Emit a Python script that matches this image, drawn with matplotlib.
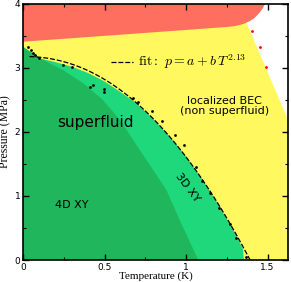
"""Phase diagram of solid 4He under pressure: superfluid, localized BEC and solid."""

import matplotlib

matplotlib.use("Agg")
import matplotlib.pyplot as plt
import numpy as np
from matplotlib.ticker import MultipleLocator

# --- region boundaries (temperature K, pressure MPa) ---
solid_edge_T = [0.0, 0.6, 1.25, 1.30, 1.35, 1.39, 1.42, 1.45, 1.47, 1.485]
solid_edge_P = [3.41, 3.52, 3.64, 3.655, 3.685, 3.73, 3.78, 3.86, 3.93, 4.0]

normal_edge_T = [1.372, 1.626]
normal_edge_P = [3.70, 2.19]

sf3d_edge_T = [0.0, 0.05, 0.1, 0.2, 0.3, 0.4, 0.5, 0.6, 0.7, 0.8, 0.9, 1.0, 1.1, 1.2, 1.3, 1.35, 1.355]
sf3d_edge_P = [3.33, 3.22, 3.15, 3.09, 3.02, 2.92, 2.79, 2.62, 2.44, 2.20, 1.93, 1.62, 1.26, 0.86, 0.42, 0.17, 0.0]

sf4d_edge_T = [0.0, 0.12, 0.25, 0.37, 0.49, 0.6, 0.7, 0.8, 0.88, 0.96, 1.02, 1.075]
sf4d_edge_P = [3.33, 3.13, 2.96, 2.76, 2.50, 2.17, 1.78, 1.40, 1.09, 0.63, 0.30, 0.0]

# --- measured transition points ---
data_T = [0.033, 0.047, 0.063, 0.074, 0.10, 0.247, 0.30, 0.41, 0.43, 0.497, 0.497,
          0.675, 0.705, 0.79, 0.85, 0.93, 0.99, 1.06, 1.10, 1.147, 1.20, 1.27, 1.305, 1.37]
data_P = [3.33, 3.28, 3.24, 3.20, 3.15, 3.04, 3.02, 2.71, 2.74, 2.67, 2.63,
          2.53, 2.47, 2.32, 2.17, 1.95, 1.79, 1.46, 1.24, 1.05, 0.82, 0.57, 0.34, 0.05]

melt_T = [1.403, 1.454, 1.49]
melt_P = [3.58, 3.32, 3.02]

# --- fit p = a + b T^2.13 ---
FIT_A = 3.18
FIT_B = -1.57
FIT_EXP = 2.13
FIT_T_MIN, FIT_T_MAX = 0.04, 1.393

T_MAX = 1.626
P_MAX = 4.0

plt.rcParams["mathtext.fontset"] = "cm"

fig = plt.figure(figsize=(2.91, 2.82), dpi=100)
ax = fig.add_axes([0.079, 0.078, 0.911, 0.908])

# yellow: everything not solid and not normal liquid
yellow_T = [0.0, T_MAX, T_MAX, normal_edge_T[0], normal_edge_T[0], 0.0]
yellow_P = [0.0, 0.0, normal_edge_P[1], normal_edge_P[0], P_MAX, P_MAX]
ax.fill(yellow_T, yellow_P, color="#fff95f", lw=0)

ax.fill([0.0] + solid_edge_T, [P_MAX] + solid_edge_P, color="#ff6f60", lw=0)
ax.fill(sf3d_edge_T + [0.0], sf3d_edge_P + [0.0], color="#1ed87b", lw=0)
ax.fill(sf4d_edge_T + [0.0], sf4d_edge_P + [0.0], color="#1fb65c", lw=0)

fit_T = np.linspace(FIT_T_MIN, FIT_T_MAX, 200)
fit_P = FIT_A + FIT_B * fit_T ** FIT_EXP
ax.plot(fit_T, fit_P, color="black", lw=0.9, dashes=(4, 1.5),
        label=r"$\mathrm{fit:}\ p = a + b\,T^{2.13}$")

ax.plot(data_T, data_P, "o", color="black", ms=2.0, mew=0)
ax.plot(melt_T, melt_P, "o", color="red", ms=2.0, mew=0)

ax.text(0.445, 2.15, "superfluid", fontsize=11, ha="center", va="center")
ax.text(0.30, 0.86, "4D XY", fontsize=8, ha="center", va="center")
ax.text(1.01, 1.14, "3D XY", fontsize=8, ha="center", va="center", rotation=-53)
ax.text(1.235, 2.40, "localized BEC\n(non superfluid)", fontsize=8,
        ha="center", va="center", linespacing=1.0)

leg = ax.legend(loc="center right", bbox_to_anchor=(0.865, 0.773), frameon=False,
                fontsize=10, handlelength=1.6, handletextpad=0.4, borderaxespad=0)

ax.set_xlim(0, T_MAX)
ax.set_ylim(0, P_MAX)
ax.xaxis.set_major_locator(MultipleLocator(0.5))
ax.xaxis.set_minor_locator(MultipleLocator(0.25))
ax.yaxis.set_major_locator(MultipleLocator(1))
ax.yaxis.set_minor_locator(MultipleLocator(0.5))
ax.set_xticks([0, 0.5, 1, 1.5])
ax.set_xticklabels(["0", "0.5", "1", "1.5"])
ax.tick_params(which="both", direction="in", top=True, right=True, labelsize=6.5, pad=2)
ax.tick_params(which="major", length=4, width=1)
ax.tick_params(which="minor", length=2.5, width=0.8)
for side in ax.spines.values():
    side.set_linewidth(1.2)

ax.set_xlabel("Temperature (K)", family="Liberation Serif", fontsize=8, labelpad=-0.5)
ax.set_ylabel("Pressure (MPa)", family="Liberation Serif", fontsize=8.5, labelpad=2)

fig.savefig("out.png", dpi=100)
